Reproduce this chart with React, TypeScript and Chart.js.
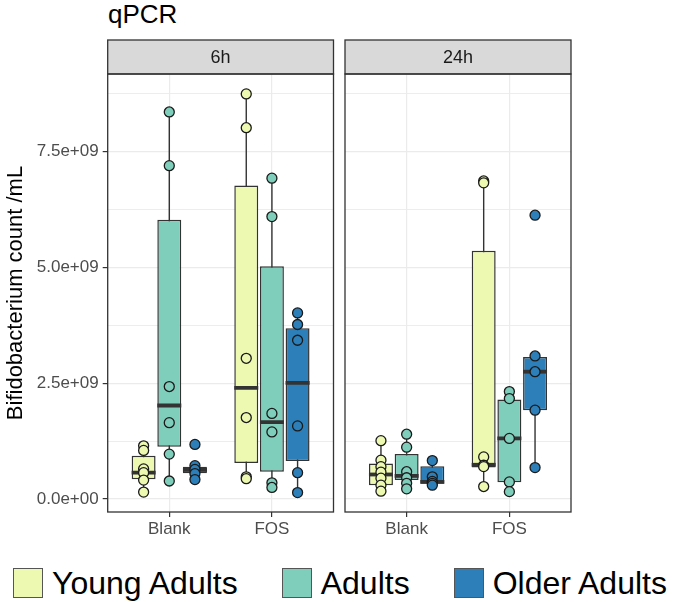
import React, { useEffect, useRef } from 'react';
import { Chart, registerables } from 'chart.js';

Chart.register(...registerables);

const FONT = '"Liberation Sans", Arial, sans-serif';
Chart.defaults.font.family = FONT;

const FACETS = ['6h', '24h'];
const CATEGORIES = ['Blank', 'FOS'];
const GROUPS = ['Young Adults', 'Adults', 'Older Adults'];
const COLORS = ['#EDF8B1', '#7FCDBB', '#2C7FB8'];
const Y_MAJOR = [0, 2.5e9, 5e9, 7.5e9];
const Y_MINOR = [1.25e9, 3.75e9, 6.25e9, 8.75e9];

// Box statistics; order: Blank-Young, Blank-Adults, Blank-Older, FOS-Young, FOS-Adults, FOS-Older
const LO_6H = [0.15e9, 0.39e9, 0.42e9, 0.44e9, 0.25e9, 0.14e9];
const Q1_6H = [0.43e9, 1.13e9, 0.555e9, 0.78e9, 0.59e9, 0.82e9];
const MED_6H = [0.57e9, 2.02e9, 0.63e9, 2.40e9, 1.66e9, 2.51e9];
const Q3_6H = [0.935e9, 6.03e9, 0.70e9, 6.77e9, 5.03e9, 3.69e9];
const HI_6H = [1.15e9, 8.36e9, 0.72e9, 8.75e9, 6.93e9, 4.02e9];

const LO_24H = [0.17e9, 0.22e9, 0.29e9, 0.27e9, 0.16e9, 0.68e9];
const Q1_24H = [0.30e9, 0.41e9, 0.33e9, 0.68e9, 0.36e9, 1.92e9];
const MED_24H = [0.53e9, 0.50e9, 0.37e9, 0.74e9, 1.31e9, 2.75e9];
const Q3_24H = [0.77e9, 0.97e9, 0.71e9, 5.36e9, 2.15e9, 3.07e9];
const HI_24H = [1.26e9, 1.40e9, 0.83e9, 6.87e9, 2.32e9, 3.09e9];

// Individual samples: [Young, Adults, Older]
const PTS_6H_BLANK = [
  [1.15e9, 1.05e9, 0.65e9, 0.57e9, 0.41e9, 0.15e9],
  [8.36e9, 7.20e9, 2.43e9, 1.65e9, 0.97e9, 0.39e9],
  [1.18e9, 0.72e9, 0.64e9, 0.55e9, 0.42e9],
];
const PTS_6H_FOS = [
  [8.75e9, 8.02e9, 3.04e9, 1.76e9, 0.48e9, 0.44e9],
  [6.93e9, 6.10e9, 1.85e9, 1.45e9, 0.35e9, 0.25e9],
  [4.02e9, 3.77e9, 3.43e9, 1.58e9, 0.57e9, 0.14e9],
];
const PTS_24H_BLANK = [
  [1.26e9, 0.84e9, 0.70e9, 0.58e9, 0.45e9, 0.30e9, 0.17e9],
  [1.40e9, 1.12e9, 0.59e9, 0.46e9, 0.34e9, 0.22e9],
  [0.83e9, 0.48e9, 0.38e9, 0.34e9, 0.30e9],
];
const PTS_24H_FOS = [
  [6.87e9, 6.83e9, 0.91e9, 0.73e9, 0.70e9, 0.27e9],
  [2.32e9, 2.17e9, 1.31e9, 0.37e9, 0.16e9],
  [6.13e9, 3.09e9, 2.75e9, 1.92e9, 0.68e9],
];

const DODGE = [-0.25, 0, 0.25];
const Y_MIN = -0.28e9;
const Y_MAX = 9.18e9;

function fmtExp(v: number) {
  const [m, e] = v.toExponential(1).split('e');
  const n = parseInt(e, 10);
  return m + 'e' + (n < 0 ? '-' : '+') + String(Math.abs(n)).padStart(2, '0');
}

function buildDatasets(lo: number[], q1: number[], med: number[], q3: number[], hi: number[], pts: number[][][]) {
  const ds: any[] = [];
  GROUPS.forEach((g, gi) => {
    const xs = CATEGORIES.map((_, ci) => ci + 1 + DODGE[gi]);
    const idx = (ci: number) => ci * 3 + gi;
    ds.push({
      type: 'scatter',
      label: g + ' whisker',
      showLine: true,
      data: CATEGORIES.flatMap((_, ci) => [
        { x: xs[ci], y: lo[idx(ci)] },
        { x: xs[ci], y: hi[idx(ci)] },
        { x: xs[ci], y: null },
      ]),
      borderColor: '#333333',
      borderWidth: 1.4,
      pointRadius: 0,
      spanGaps: false,
      order: 4,
    });
    ds.push({
      type: 'bar',
      label: g,
      data: CATEGORIES.map((_, ci) => ({ x: xs[ci], y: [q1[idx(ci)], q3[idx(ci)]] })),
      backgroundColor: COLORS[gi],
      borderColor: '#333333',
      borderWidth: 1.5,
      borderSkipped: false,
      grouped: false,
      barPercentage: 0.933,
      categoryPercentage: 1,
      order: 3,
    });
    ds.push({
      type: 'scatter',
      label: g + ' median',
      data: CATEGORIES.map((_, ci) => ({ x: xs[ci], y: med[idx(ci)] })),
      pointStyle: 'line',
      pointRadius: 12,
      pointBorderWidth: 3.8,
      pointBorderColor: '#333333',
      order: 2,
    });
    ds.push({
      type: 'scatter',
      label: g + ' samples',
      data: CATEGORIES.flatMap((_, ci) => pts[ci][gi].map((v) => ({ x: xs[ci], y: v }))),
      pointRadius: 5,
      pointBackgroundColor: COLORS[gi],
      pointBorderColor: '#1A1A1A',
      pointBorderWidth: 1.3,
      order: 1,
    });
  });
  return ds;
}

const stripPlugin = {
  id: 'strip',
  afterDraw(chart: any, _args: any, opts: any) {
    const { ctx, chartArea: a } = chart;
    ctx.save();
    ctx.fillStyle = '#D9D9D9';
    ctx.fillRect(a.left, opts.top, a.right - a.left, a.top - opts.top);
    ctx.strokeStyle = '#333333';
    ctx.lineWidth = 1.3;
    ctx.strokeRect(a.left, opts.top, a.right - a.left, a.top - opts.top);
    ctx.strokeRect(a.left, a.top, a.right - a.left, a.bottom - a.top);
    ctx.fillStyle = '#1A1A1A';
    ctx.font = '18px ' + FONT;
    ctx.textAlign = 'center';
    ctx.textBaseline = 'middle';
    ctx.fillText(opts.label, (a.left + a.right) / 2, (opts.top + a.top) / 2 + 1);
    ctx.restore();
  },
};

type PanelProps = {
  facet: string;
  datasets: any[];
  showY: boolean;
  left: number;
  width: number;
  padLeft: number;
  padRight: number;
};

const HEIGHT = 548;

function Panel({ facet, datasets, showY, left, width, padLeft, padRight }: PanelProps) {
  const ref = useRef<HTMLCanvasElement>(null);
  useEffect(() => {
    if (!ref.current) return;
    const chart = new Chart(ref.current, {
      type: 'scatter',
      data: { datasets },
      plugins: [stripPlugin],
      options: {
        animation: false,
        responsive: false,
        events: [],
        layout: { autoPadding: false, padding: { top: 74, left: padLeft, right: padRight, bottom: 0 } },
        plugins: {
          legend: { display: false },
          tooltip: { enabled: false },
          strip: { label: facet, top: 40 },
        } as any,
        scales: {
          x: {
            type: 'linear',
            min: 0.4,
            max: 2.6,
            offset: false,
            afterBuildTicks: (s: any) => {
              s.ticks = CATEGORIES.map((_, i) => ({ value: i + 1 }));
            },
            afterFit: (s: any) => {
              s.height = 36;
              s.paddingLeft = 0;
              s.paddingRight = 0;
            },
            ticks: {
              callback: (v: any) => CATEGORIES[Math.round(Number(v)) - 1],
              color: '#4D4D4D',
              font: { size: 17 },
              padding: 2,
              autoSkip: false,
              maxRotation: 0,
            },
            grid: { offset: false, color: '#EBEBEB', lineWidth: 1.2, tickColor: '#333333', tickLength: 5 },
            border: { display: false },
          },
          y: {
            type: 'linear',
            min: Y_MIN,
            max: Y_MAX,
            afterBuildTicks: (s: any) => {
              s.ticks = [...Y_MAJOR, ...Y_MINOR].sort((a, b) => a - b).map((v) => ({ value: v }));
            },
            afterFit: (s: any) => {
              s.width = showY ? 107.7 : 0;
              s.paddingTop = 0;
              s.paddingBottom = 0;
            },
            ticks: {
              display: showY,
              callback: (v: any) => (Y_MAJOR.includes(Number(v)) ? fmtExp(Number(v)) : ''),
              color: '#4D4D4D',
              font: { size: 17 },
              padding: 4,
              autoSkip: false,
            },
            grid: {
              color: '#EBEBEB',
              lineWidth: (c: any) => (c.tick && Y_MAJOR.includes(c.tick.value) ? 1.2 : 0.9),
              drawTicks: showY,
              tickLength: 5,
              tickColor: (c: any) => (c.tick && Y_MAJOR.includes(c.tick.value) ? '#333333' : 'rgba(0,0,0,0)'),
            },
            border: { display: false },
            title: {
              display: showY,
              text: 'Bifidobacterium count /mL',
              color: '#000000',
              font: { size: 22 },
              padding: { top: 3, bottom: 0 },
            },
          },
        },
      } as any,
    });
    return () => chart.destroy();
  }, []);
  return (
    <canvas
      ref={ref}
      width={width}
      height={HEIGHT}
      style={{ position: 'absolute', left, top: 0, width, height: HEIGHT }}
    />
  );
}

export default function App() {
  const ds6 = buildDatasets(LO_6H, Q1_6H, MED_6H, Q3_6H, HI_6H, [PTS_6H_BLANK, PTS_6H_FOS]);
  const ds24 = buildDatasets(LO_24H, Q1_24H, MED_24H, Q3_24H, HI_24H, [PTS_24H_BLANK, PTS_24H_FOS]);
  return (
    <div style={{ position: 'fixed', left: 0, top: 0, width: 680, height: 602, background: '#FFFFFF', overflow: 'hidden' }}>
      <div style={{ position: 'absolute', left: 108, top: 1, fontFamily: FONT, fontSize: 26, lineHeight: 1, color: '#000' }}>
        qPCR
      </div>
      <Panel facet={FACETS[0]} datasets={ds6} showY={true} left={0} width={340} padLeft={0} padRight={6.5} />
      <Panel facet={FACETS[1]} datasets={ds24} showY={false} left={340} width={240} padLeft={5} padRight={9} />
      <div
        style={{
          position: 'absolute',
          left: 0,
          top: 567,
          width: 680,
          height: 32,
          display: 'flex',
          justifyContent: 'center',
          alignItems: 'center',
          fontFamily: FONT,
          fontSize: 32,
          color: '#000',
        }}
      >
        {GROUPS.map((g, i) => (
          <div key={g} style={{ display: 'flex', alignItems: 'center', marginRight: i < GROUPS.length - 1 ? 44 : 0 }}>
            <div
              style={{
                width: 30,
                height: 30,
                background: COLORS[i],
                border: '1px solid #555555',
                boxSizing: 'border-box',
                marginRight: 9,
              }}
            />
            <span style={{ lineHeight: 1 }}>{g}</span>
          </div>
        ))}
      </div>
    </div>
  );
}
